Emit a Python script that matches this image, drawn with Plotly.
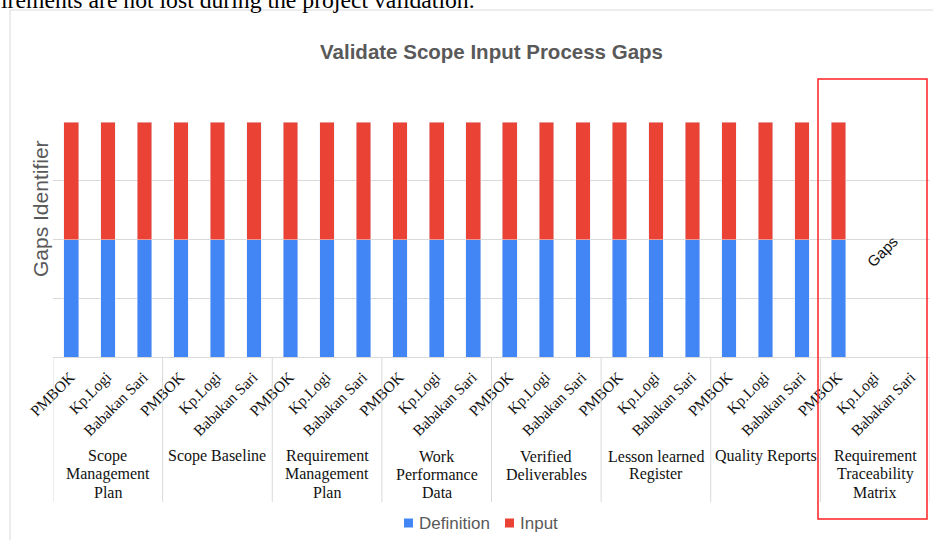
import plotly.graph_objects as go

groups = ["Scope<br>Management<br>Plan", "Scope Baseline", "Requirement<br>Management<br>Plan",
          "Work<br>Performance<br>Data", "Verified<br>Deliverables", "Lesson learned<br>Register",
          "Quality Reports", "Requirement<br>Traceability<br>Matrix"]
sources = ["PMBOK", "Kp.Logi", "Babakan Sari"]
series_names = ["Definition", "Input"]
series_colors = ["#4285F4", "#EA4335"]
definition = [1, 1, 1, 1, 1, 1, 1, 1, 1, 1, 1, 1, 1, 1, 1, 1, 1, 1, 1, 1, 1, 1, 0, 0]
inputs = [1, 1, 1, 1, 1, 1, 1, 1, 1, 1, 1, 1, 1, 1, 1, 1, 1, 1, 1, 1, 1, 1, 0, 0]

n = len(groups) * len(sources)
xs = list(range(n))
ticktext = [s for g in groups for s in sources]

W, H = 933, 540
L, R, T, B = 53, 3, 122, 183
pw, ph = W - L - R, H - T - B
def px(x):
    return (x - L) / pw
def py(y):
    return (H - B - y) / ph

fig = go.Figure()
for name, vals, col in zip(series_names, [definition, inputs], series_colors):
    fig.add_bar(x=xs, y=vals, name=name, marker_color=col, width=0.4, showlegend=False)

shapes = []
for i in range(len(groups) + 1):
    shapes.append(dict(type="line", xref="x", yref="paper", x0=3 * i - 0.5, x1=3 * i - 0.5,
                       y0=0, y1=py(502), line=dict(color="#d9d9d9", width=1)))
# chart border (page)
shapes.append(dict(type="line", xref="paper", yref="paper", x0=px(10), x1=px(940), y0=py(10), y1=py(10),
                   line=dict(color="#d9d9d9", width=1)))
shapes.append(dict(type="line", xref="paper", yref="paper", x0=px(10), x1=px(10), y0=py(10), y1=py(545),
                   line=dict(color="#d9d9d9", width=1)))
# red highlight box
shapes.append(dict(type="rect", xref="paper", yref="paper", x0=px(818), x1=px(927), y0=py(79), y1=py(519),
                   line=dict(color="#FF2020", width=1.5)))

annotations = []
# legend (manual, compact like the original)
leg_x = [404, 505]
for name, col, lx in zip(series_names, series_colors, leg_x):
    shapes.append(dict(type="rect", xref="paper", yref="paper", x0=px(lx), x1=px(lx + 9),
                       y0=py(518.5), y1=py(527.5), fillcolor=col, line=dict(width=0)))
    annotations.append(dict(x=px(lx + 13), y=py(523), xref="paper", yref="paper", text=name,
                            xanchor="left", yanchor="middle", showarrow=False,
                            font=dict(family="Liberation Sans", size=17, color="#595959")))

for i, g in enumerate(groups):
    for j, line in enumerate(g.split("<br>")):
        annotations.append(dict(x=3 * i + 1, xref="x", y=py(456 + 18 * j), yref="paper", text=line,
                                showarrow=False, yanchor="middle", xanchor="center",
                                font=dict(family="Liberation Serif", size=16, color="#111111")))
annotations.append(dict(x=px(40), y=py(209), xref="paper", yref="paper", text="Gaps Identifier",
                        textangle=-90, showarrow=False, xanchor="center", yanchor="middle",
                        font=dict(family="Liberation Sans", size=21, color="#595959")))
annotations.append(dict(x=px(882), y=py(251), xref="paper", yref="paper", text="Gaps",
                        textangle=-45, showarrow=False, xanchor="center", yanchor="middle",
                        font=dict(family="Liberation Sans", size=15, color="#111111")))
annotations.append(dict(x=px(-1), y=py(0), xref="paper", yref="paper", xanchor="left", yanchor="middle",
                        text="irements are not lost during the project validation.", showarrow=False,
                        font=dict(family="Liberation Serif", size=23.7, color="#000000")))

fig.update_layout(
    width=W, height=H,
    margin=dict(l=L, r=R, t=T, b=B),
    paper_bgcolor="white", plot_bgcolor="white",
    barmode="stack",
    showlegend=False,
    title=dict(text="<b>Validate Scope Input Process Gaps</b>", x=0.5, xref="paper",
               y=1 - 52 / H, yanchor="middle",
               font=dict(family="Liberation Sans", size=20.5, color="#595959")),
    xaxis=dict(tickmode="array", tickvals=xs, ticktext=ticktext, tickangle=-45,
               range=[-0.5, n - 0.5], showgrid=False, showline=True, linecolor="#d9d9d9",
               ticks="", ticklabelstandoff=4, ticklabelshift=-1,
               tickfont=dict(family="Liberation Serif", size=15.5, color="#111111")),
    yaxis=dict(range=[0, 2], dtick=0.5, showgrid=True, gridcolor="#d9d9d9", showticklabels=False,
               zeroline=False, ticks=""),
    shapes=shapes, annotations=annotations,
)
fig.write_html("out.html", config={"displayModeBar": False},
               post_script="document.body.style.margin='0px';document.body.style.overflow='hidden';")
